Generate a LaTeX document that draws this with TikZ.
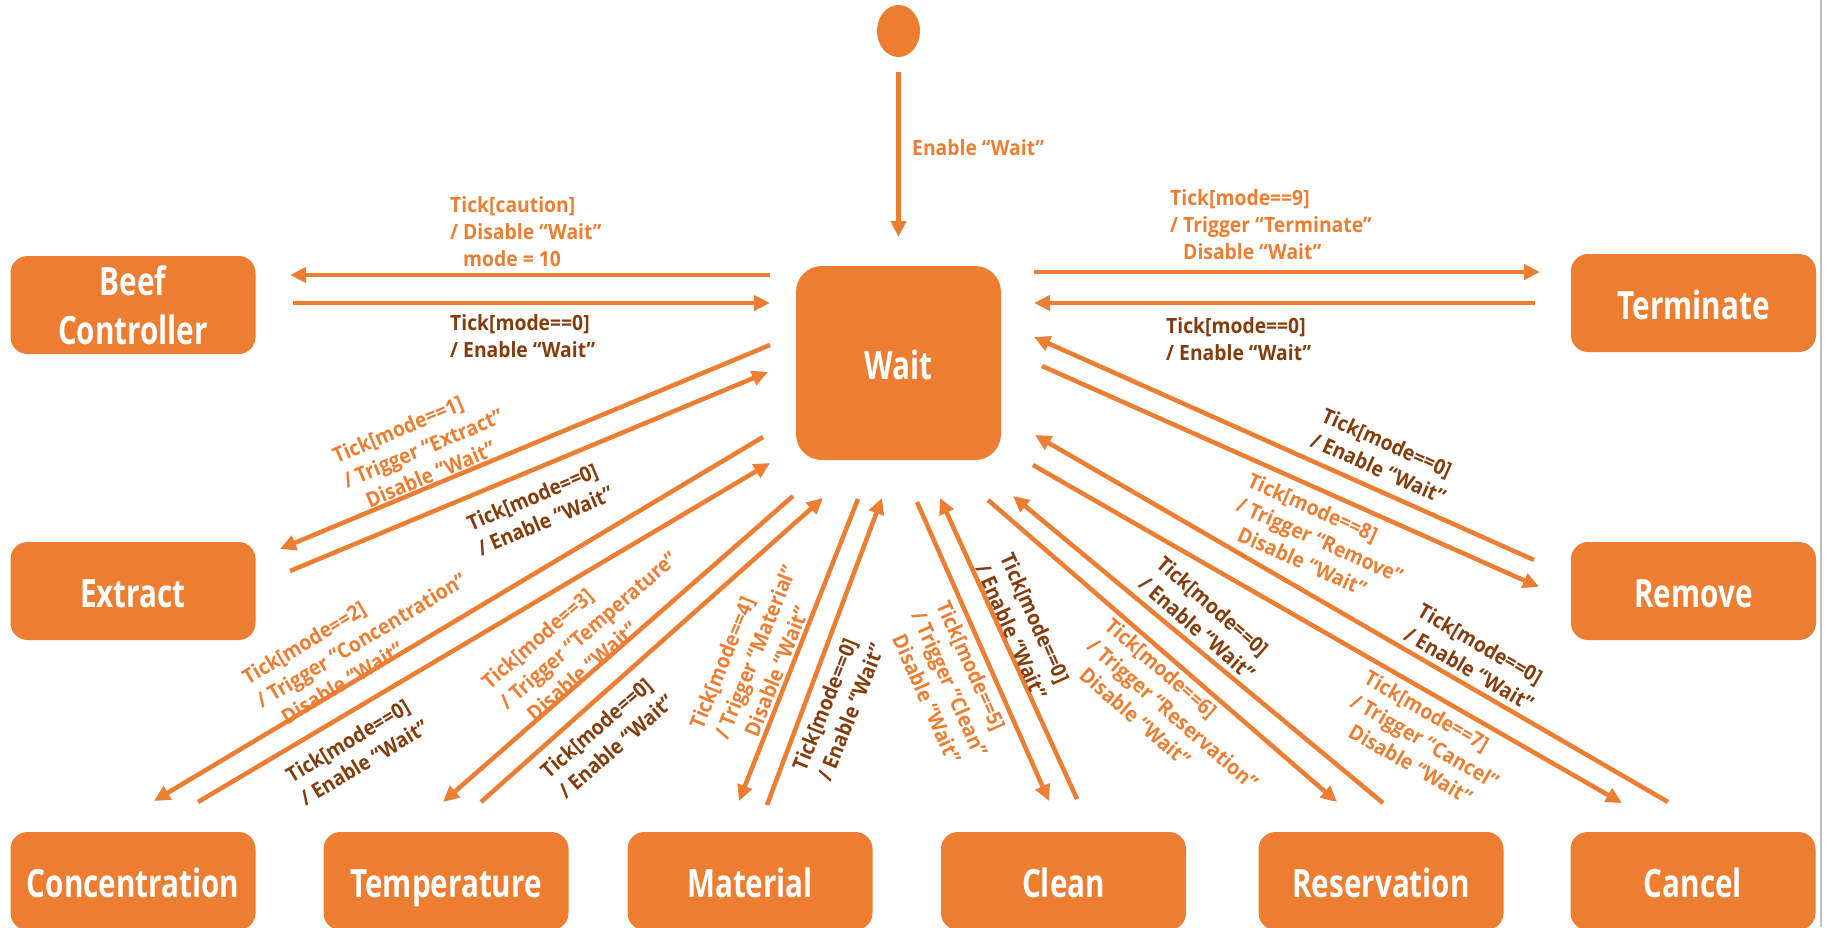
\documentclass[tikz,border=0pt]{standalone}
\usepackage{fontspec}
\setmainfont{Open Sans}
\newfontfamily\boxfont[FakeStretch=0.76]{Open Sans}
\newfontfamily\lblfont[FakeStretch=0.92]{Open Sans}
\usetikzlibrary{arrows.meta,shapes.geometric}
\definecolor{orng}{HTML}{ED7D31}
\definecolor{brwn}{HTML}{843C0C}
\tikzset{
	stbox/.style={rectangle, rounded corners=17pt, fill=orng, text=white, minimum width=245pt, minimum height=98pt, inner sep=0pt, align=center, font=\boxfont\bfseries\fontsize{39}{49}\selectfont},
	oneline/.style={text height=34pt, text depth=2pt},
	tr/.style={draw=orng, line width=4.5pt, -{Triangle[length=16pt,width=15pt]}},
	lbl/.style={inner sep=0pt, align=left, font=\lblfont\bfseries\fontsize{21}{27}\selectfont},
	trig/.style={lbl, text=orng},
	enab/.style={lbl, text=brwn}
}
\newcommand{\ind}{\hspace*{13pt}}

\begin{document}
\begin{tikzpicture}[x=1pt, y=-1pt]
		%%%%% START %%%%%
		\useasboundingbox (0,0) rectangle (1825,927);
		\clip (0,0) rectangle (1825,927);
		
		\draw[black!25, line width=2pt] (1821,0) -- (1821,927);
		
		\node[ellipse, fill=orng, minimum width=43pt, minimum height=52pt, inner sep=0pt] (init) at (898.5,31) {};
		\node[stbox, oneline, minimum width=205pt, minimum height=194pt, rounded corners=26pt] (wait) at (898.5,363) {Wait};
		
		\node[stbox] (beef) at (133,305) {Beef\\Controller};
		\node[stbox, oneline] (term) at (1693.5,303) {Terminate};
		\node[stbox, oneline] (ext) at (133,591) {Extract};
		\node[stbox, oneline] (rem) at (1693.5,591) {Remove};
		\node[stbox, oneline] (conc) at (133,881) {Concentration};
		\node[stbox, oneline] (temp) at (446,881) {Temperature};
		\node[stbox, oneline] (mat) at (750,881) {Material};
		\node[stbox, oneline] (clean) at (1063.5,881) {Clean};
		\node[stbox, oneline] (res) at (1381,881) {Reservation};
		\node[stbox, oneline] (canc) at (1693,881) {Cancel};
		
		\coordinate (init-s) at (898.5,72);
		\coordinate (init-e) at (898.5,237);
		\coordinate (w2beef-s) at (770,275);
		\coordinate (w2beef-e) at (290,275);
		\coordinate (beef2w-s) at (293,303);
		\coordinate (beef2w-e) at (770,303);
		\coordinate (w2term-s) at (1034,272);
		\coordinate (w2term-e) at (1540,272);
		\coordinate (term2w-s) at (1535,303);
		\coordinate (term2w-e) at (1034,303);
		\coordinate (w2ext-s) at (770,345);
		\coordinate (w2ext-e) at (280,549);
		\coordinate (ext2w-s) at (290,571);
		\coordinate (ext2w-e) at (768,372);
		\coordinate (w2conc-s) at (763,437);
		\coordinate (w2conc-e) at (154,801);
		\coordinate (conc2w-s) at (198,802);
		\coordinate (conc2w-e) at (770,463);
		\coordinate (w2temp-s) at (793,496);
		\coordinate (w2temp-e) at (443,802);
		\coordinate (temp2w-s) at (481,802);
		\coordinate (temp2w-e) at (823,498);
		\coordinate (w2mat-s) at (858,499);
		\coordinate (w2mat-e) at (739,801);
		\coordinate (mat2w-s) at (767,805);
		\coordinate (mat2w-e) at (882,498);
		\coordinate (w2clean-s) at (917,502);
		\coordinate (w2clean-e) at (1049,801);
		\coordinate (clean2w-s) at (1077,799);
		\coordinate (clean2w-e) at (940,498);
		\coordinate (w2res-s) at (988,500);
		\coordinate (w2res-e) at (1337,802);
		\coordinate (res2w-s) at (1383,803);
		\coordinate (res2w-e) at (1013,496);
		\coordinate (w2canc-s) at (1033,465);
		\coordinate (w2canc-e) at (1622,803);
		\coordinate (canc2w-s) at (1668,802);
		\coordinate (canc2w-e) at (1035,435);
		\coordinate (w2rem-s) at (1042,366);
		\coordinate (w2rem-e) at (1539,587);
		\coordinate (rem2w-s) at (1534,560);
		\coordinate (rem2w-e) at (1034,337);
		
		\draw[tr] (init-s) -- (init-e);
		\draw[tr] (w2beef-s) -- (w2beef-e);
		\draw[tr] (beef2w-s) -- (beef2w-e);
		\draw[tr] (w2term-s) -- (w2term-e);
		\draw[tr] (term2w-s) -- (term2w-e);
		\draw[tr] (w2ext-s) -- (w2ext-e);
		\draw[tr] (ext2w-s) -- (ext2w-e);
		\draw[tr] (w2conc-s) -- (w2conc-e);
		\draw[tr] (conc2w-s) -- (conc2w-e);
		\draw[tr] (w2temp-s) -- (w2temp-e);
		\draw[tr] (temp2w-s) -- (temp2w-e);
		\draw[tr] (w2mat-s) -- (w2mat-e);
		\draw[tr] (mat2w-s) -- (mat2w-e);
		\draw[tr] (w2clean-s) -- (w2clean-e);
		\draw[tr] (clean2w-s) -- (clean2w-e);
		\draw[tr] (w2res-s) -- (w2res-e);
		\draw[tr] (res2w-s) -- (res2w-e);
		\draw[tr] (w2canc-s) -- (w2canc-e);
		\draw[tr] (canc2w-s) -- (canc2w-e);
		\draw[tr] (w2rem-s) -- (w2rem-e);
		\draw[tr] (rem2w-s) -- (rem2w-e);
		
		\node[trig, anchor=west] (l-init) at (912,148) {Enable “Wait”};
		
		\node[trig, anchor=west] (l-beef1) at (450,232) {Tick[caution]\\/ Disable “Wait”\\\ind mode = 10};
		\node[enab, anchor=west] (l-beef2) at (450,336) {Tick[mode==0]\\/ Enable “Wait”};
		\node[trig, anchor=west] (l-term1) at (1170,225) {Tick[mode==9]\\/ Trigger “Terminate”\\\ind Disable “Wait”};
		\node[enab, anchor=west] (l-term2) at (1166,339) {Tick[mode==0]\\/ Enable “Wait”};
		
		\node[trig, rotate=23] (l-ext1) at (423,448) {Tick[mode==1]\\/ Trigger “Extract”\\\ind Disable “Wait”};
		\node[enab, rotate=23] (l-ext2) at (540,508) {Tick[mode==0]\\/ Enable “Wait”};
		\node[trig, rotate=31] (l-conc1) at (361,640) {Tick[mode==2]\\/ Trigger “Concentration”\\\ind Disable “Wait”};
		\node[enab, rotate=31] (l-conc2) at (357,751) {Tick[mode==0]\\/ Enable “Wait”};
		\node[trig, rotate=41] (l-temp1) at (588,630) {Tick[mode==3]\\/ Trigger “Temperature”\\\ind Disable “Wait”};
		\node[enab, rotate=41] (l-temp2) at (607,736) {Tick[mode==0]\\/ Enable “Wait”};
		\node[trig, rotate=68] (l-mat1) at (755,652) {Tick[mode==4]\\/ Trigger “Material”\\\ind Disable “Wait”};
		\node[enab, rotate=68] (l-mat2) at (838,707) {Tick[mode==0]\\/ Enable “Wait”};
		
		\node[trig, rotate=-66] (l-clean1) at (950,684) {Tick[mode==5]\\/ Trigger “Clean”\\\ind Disable “Wait”};
		\node[enab, rotate=-66] (l-clean2) at (1024,626) {Tick[mode==0]\\/ Enable “Wait”};
		\node[trig, rotate=-41] (l-res1) at (1173,714) {Tick[mode==6]\\/ Trigger “Reservation”\\\ind Disable “Wait”};
		\node[enab, rotate=-41] (l-res2) at (1206,618) {Tick[mode==0]\\/ Enable “Wait”};
		\node[trig, rotate=-30] (l-canc1) at (1425,741) {Tick[mode==7]\\/ Trigger “Cancel”\\\ind Disable “Wait”};
		\node[enab, rotate=-30] (l-canc2) at (1476,657) {Tick[mode==0]\\/ Enable “Wait”};
		\node[trig, rotate=-24] (l-rem1) at (1320,540) {Tick[mode==8]\\/ Trigger “Remove”\\\ind Disable “Wait”};
		\node[enab, rotate=-24] (l-rem2) at (1384,456) {Tick[mode==0]\\/ Enable “Wait”};
		
		%%%%% END %%%%%
\end{tikzpicture}
\end{document}
